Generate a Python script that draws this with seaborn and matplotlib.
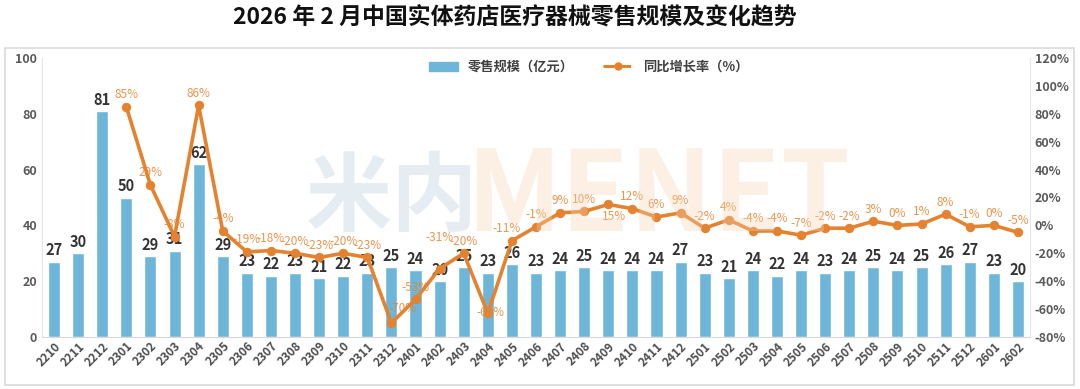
import numpy as np
import pandas as pd
import matplotlib.pyplot as plt
import seaborn as sns
from matplotlib.lines import Line2D
from matplotlib.patches import Patch, Rectangle

# monthly data (yymm)
months = ["2210", "2211", "2212",
          "2301", "2302", "2303", "2304", "2305", "2306", "2307", "2308", "2309", "2310", "2311", "2312",
          "2401", "2402", "2403", "2404", "2405", "2406", "2407", "2408", "2409", "2410", "2411", "2412",
          "2501", "2502", "2503", "2504", "2505", "2506", "2507", "2508", "2509", "2510", "2511", "2512",
          "2601", "2602"]
sales = [27, 30, 81,
         50, 29, 31, 62, 29, 23, 22, 23, 21, 22, 23, 25,
         24, 20, 25, 23, 26, 23, 24, 25, 24, 24, 24, 27,
         23, 21, 24, 22, 24, 23, 24, 25, 24, 25, 26, 27,
         23, 20]
growth_months = months[3:]
growth = [85, 29, -8, 86, -4, -19, -18, -20, -23, -20, -23, -70,
          -53, -31, -20, -63, -11, -1, 9, 10, 15, 12, 6, 9,
          -2, 4, -4, -4, -7, -2, -2, 3, 0, 1, 8, -1,
          0, -5]

BLUE = "#6DB6D9"
ORANGE = "#E5822F"
GREY = "#595959"

sns.set_style("white")
plt.rcParams["font.family"] = ["Noto Sans CJK SC", "DejaVu Sans"]

df_bar = pd.DataFrame({"month": months, "sales": sales})
df_line = pd.DataFrame({"month": growth_months,
                        "pos": [months.index(m) for m in growth_months],
                        "growth": growth})

fig = plt.figure(figsize=(10.8, 3.89), dpi=100)
fig.patches.append(Rectangle((5 / 1080, 1 - 385 / 389), 1069 / 1080, 337 / 389,
                             transform=fig.transFigure, fill=False, edgecolor="#D9D9D9", lw=1.2))

# watermark
fig.text(0.283, 0.49, "米内", fontsize=62, fontweight="bold", color="#C9D9E3", alpha=0.45,
         ha="left", va="center")
fig.text(0.432, 0.49, "MENET", fontsize=80, fontweight="bold", color="#F7D2B0", alpha=0.35,
         ha="left", va="center")

ax = fig.add_axes([42 / 1080, 1 - 337 / 389, 988 / 1080, 279 / 389])
ax.set_facecolor("none")
sns.barplot(data=df_bar, x="month", y="sales", color=BLUE, width=0.5, saturation=1, ax=ax)
ax.set_ylim(0, 100)
ax.set_xlim(-0.5, len(months) - 0.5)
ax.set_yticks(range(0, 101, 20))
ax.set_xlabel("")
ax.set_ylabel("")
for i, v in enumerate(sales):
    ax.annotate(str(v), (i, v), xytext=(0, 2.5), textcoords="offset points", ha="center", va="bottom",
                fontsize=10.5, fontweight="bold", color="#333333")

ax2 = ax.twinx()
sns.lineplot(data=df_line, x="pos", y="growth", color=ORANGE, lw=2.6, marker="o", markersize=6,
             markeredgecolor=ORANGE, ax=ax2)
ax2.set_ylim(-80, 120)
ax2.set_yticks(range(-80, 121, 20))
ax2.set_yticklabels([f"{t}%" for t in range(-80, 121, 20)])
ax2.set_ylabel("")
ax2.set_xlim(-0.5, len(months) - 0.5)

# a few labels sit off the default spot, as in the source chart
label_offsets = {"2312": (8, 6), "2402": (0, 18), "2404": (2, -4), "2409": (4, -13), "2405": (-4, 4)}
for m, p, g in zip(df_line["month"], df_line["pos"], df_line["growth"]):
    dx, dy = label_offsets.get(m, (0, 4))
    ax2.annotate(f"{g}%", (p, g), xytext=(dx, dy), textcoords="offset points", ha="center", va="bottom",
                 fontsize=8.5, color=ORANGE, alpha=0.85)

for a in (ax, ax2):
    for s in a.spines.values():
        s.set_visible(False)
    a.tick_params(axis="y", length=0, labelsize=9, labelcolor=GREY)
    for t in a.get_yticklabels():
        t.set_fontweight("bold")
ax.spines["bottom"].set_visible(True)
ax.spines["bottom"].set_color("#D9D9D9")
ax.spines["left"].set_visible(True)
ax.spines["left"].set_color("#E6E6E6")
ax2.spines["right"].set_visible(True)
ax2.spines["right"].set_color("#E6E6E6")
ax.tick_params(axis="x", length=0, labelsize=8.5, labelcolor="#4D4D4D", pad=2)
plt.setp(ax.get_xticklabels(), rotation=45, ha="right", rotation_mode="anchor", fontweight="bold")

handles = [Patch(color=BLUE, label="零售规模（亿元）"),
           Line2D([0], [0], color=ORANGE, lw=2.2, ls="--", marker="o", markersize=5, label="同比增长率（%）")]
leg = ax.legend(handles=handles, loc="upper center", bbox_to_anchor=(0.553, 1.035), ncol=2, frameon=False,
                fontsize=9.5, handlelength=2.2, columnspacing=2.2)
for t in leg.get_texts():
    t.set_color("#404040")
    t.set_fontweight("bold")

fig.suptitle("2026 年 2 月中国实体药店医疗器械零售规模及变化趋势", x=0.477, y=0.985, va="top",
             fontsize=16.5, fontweight="bold", color="#111111")

fig.savefig("out.png", dpi=100)
